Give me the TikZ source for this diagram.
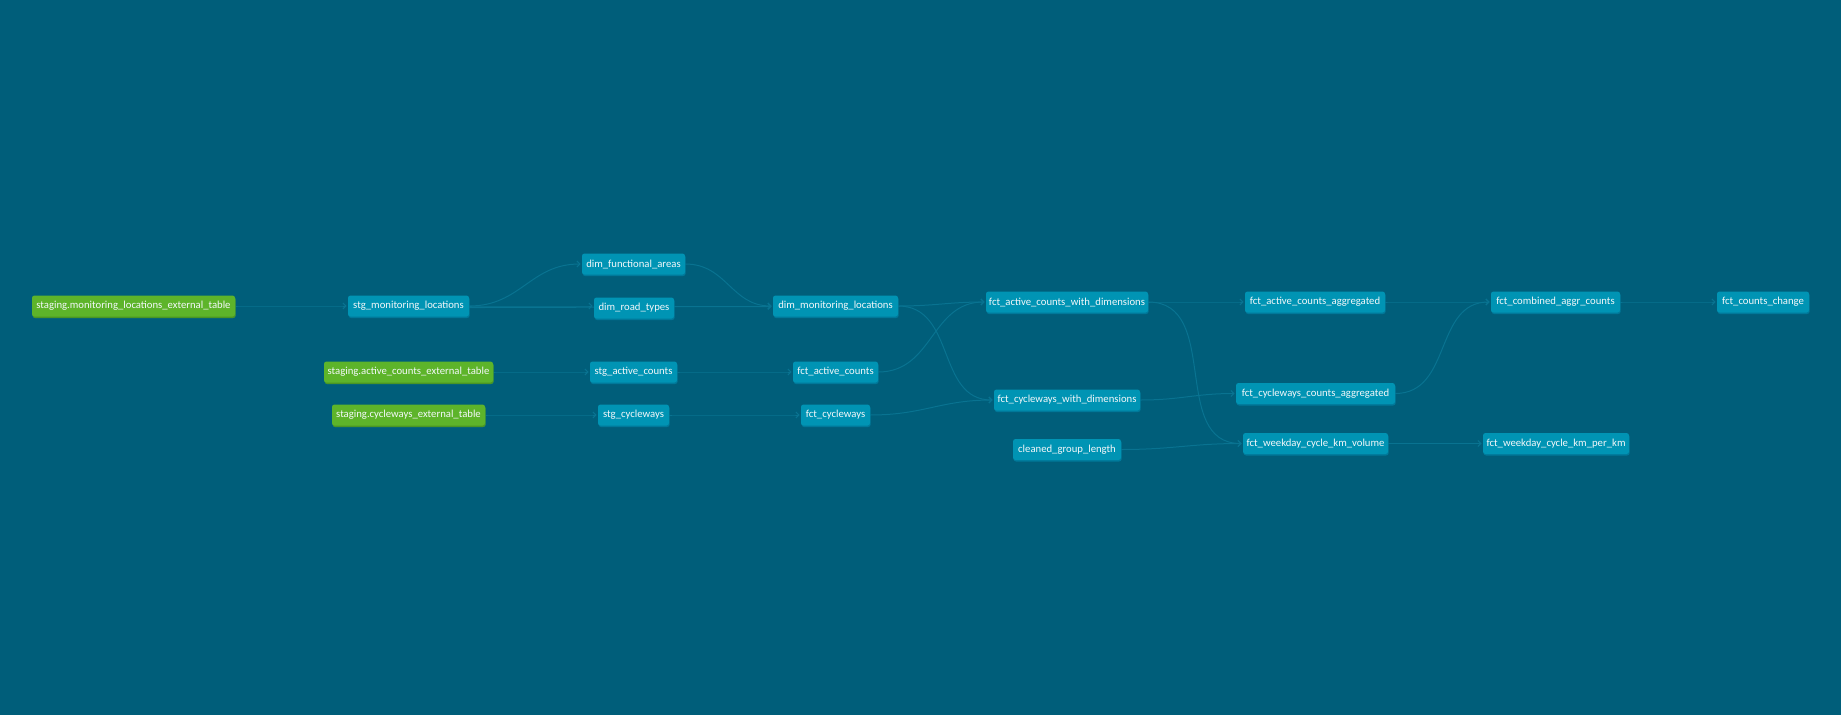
\documentclass[tikz,border=0pt]{standalone}
\usepackage{fontspec}
\setmainfont{Carlito}
\usetikzlibrary{arrows.meta,shadows}

\definecolor{canvas}{HTML}{005E7A}
\definecolor{modelfill}{HTML}{0094B4}
\definecolor{modelshade}{HTML}{00799A}
\definecolor{sourcefill}{HTML}{5DB42A}
\definecolor{sourceshade}{HTML}{4A9624}
\definecolor{linkcol}{HTML}{097391}
\definecolor{labelcol}{HTML}{F4F8FA}

\pgfdeclarelayer{canvaslayer}
\pgfdeclarelayer{linklayer}
\pgfsetlayers{canvaslayer,linklayer,main}

\tikzset{
  model/.style={rectangle, rounded corners=2.5pt, fill=modelfill,
    minimum height=21pt, inner sep=0pt, text=labelcol,
    font=\fontsize{10.7pt}{12pt}\selectfont,
    drop shadow={shadow xshift=0.6pt, shadow yshift=-1.5pt, opacity=1, fill=modelshade}},
  source/.style={model, fill=sourcefill,
    drop shadow={shadow xshift=0.6pt, shadow yshift=-1.5pt, opacity=1, fill=sourceshade}},
  link/.style={draw=linkcol, line width=1pt, shorten >=1.2pt,
    -{Straight Barb[length=3pt,width=6pt]}},
  flow/.style={out=0, in=180, looseness=1.1},
}

\begin{document}
\begin{tikzpicture}[x=1pt, y=-1pt]
  % canvas
  \begin{pgfonlayer}{canvaslayer}
    \fill[canvas] (0,0) rectangle (1841,715);
  \end{pgfonlayer}
  \useasboundingbox (0,0) rectangle (1841,715);

  % ---- sources ----
  \node[source, minimum width=203pt] (smlext) at (133.5,306) {staging.monitoring\_locations\_external\_table};
  \node[source, minimum width=169pt] (sacext) at (408.5,372) {staging.active\_counts\_external\_table};
  \node[source, minimum width=153pt] (scwext) at (408.5,415) {staging.cycleways\_external\_table};

  % ---- models ----
  \node[model, minimum width=121pt] (stgml) at (408.5,306) {stg\_monitoring\_locations};
  \node[model, minimum width=103pt] (dimfa) at (633.5,264) {dim\_functional\_areas};
  \node[model, minimum width=80pt]  (dimrt) at (634,308)   {dim\_road\_types};
  \node[model, minimum width=87pt]  (stgac) at (633.5,372) {stg\_active\_counts};
  \node[model, minimum width=71pt]  (stgcw) at (633.5,415) {stg\_cycleways};

  \node[model, minimum width=125pt] (dimml) at (835.5,306) {dim\_monitoring\_locations};
  \node[model, minimum width=85pt]  (fctac) at (835.5,372) {fct\_active\_counts};
  \node[model, minimum width=69pt]  (fctcw) at (835.5,415) {fct\_cycleways};

  \node[model, minimum width=162pt] (facwd) at (1067,302)   {fct\_active\_counts\_with\_dimensions};
  \node[model, minimum width=146pt] (fcwwd) at (1067,400)   {fct\_cycleways\_with\_dimensions};
  \node[model, minimum width=108pt] (cgl)   at (1067,449.5) {cleaned\_group\_length};

  \node[model, minimum width=140pt] (faca)  at (1315,302)   {fct\_active\_counts\_aggregated};
  \node[model, minimum width=159pt] (fcca)  at (1315.5,393.5) {fct\_cycleways\_counts\_aggregated};
  \node[model, minimum width=145pt] (fwckv) at (1315.5,443.5) {fct\_weekday\_cycle\_km\_volume};

  \node[model, minimum width=129pt] (fcac)  at (1555.5,302) {fct\_combined\_aggr\_counts};
  \node[model, minimum width=146pt] (fwckp) at (1556,443.5) {fct\_weekday\_cycle\_km\_per\_km};

  \node[model, minimum width=92pt]  (fcc)   at (1763,302)   {fct\_counts\_change};

  % ---- lineage links, kept under the boxes ----
  \begin{pgfonlayer}{linklayer}
    \draw[link] (smlext.east) to[flow] (stgml.west);
    \draw[link] (sacext.east) to[flow] (stgac.west);
    \draw[link] (scwext.east) to[flow] (stgcw.west);

    \draw[link] (stgml.east) to[flow] (dimfa.west);
    \draw[link] (stgml.east) to[flow] ([yshift=2pt]dimrt.west);
    \draw[link] ([yshift=-1.5pt]stgml.east) to[flow] ([yshift=-0.5pt]dimml.west);
    \draw[link] (dimfa.east) to[flow] (dimml.west);
    \draw[link] ([yshift=2pt]dimrt.east) to[flow] (dimml.west);

    \draw[link] (stgac.east) to[flow] (fctac.west);
    \draw[link] (stgcw.east) to[flow] (fctcw.west);

    \draw[link] (dimml.east) to[flow] (facwd.west);
    \draw[link] (dimml.east) to[flow] (fcwwd.west);
    \draw[link] (fctac.east) to[flow] (facwd.west);
    \draw[link] (fctcw.east) to[flow] (fcwwd.west);

    \draw[link] (facwd.east) to[flow] (faca.west);
    \draw[link] (facwd.east) to[flow] (fwckv.west);
    \draw[link] (fcwwd.east) to[flow] (fcca.west);
    \draw[link] (cgl.east)   to[flow] (fwckv.west);

    \draw[link] (faca.east)  to[flow] (fcac.west);
    \draw[link] (fcca.east)  to[flow] (fcac.west);
    \draw[link] (fwckv.east) to[flow] (fwckp.west);
    \draw[link] (fcac.east)  to[flow] (fcc.west);
  \end{pgfonlayer}
\end{tikzpicture}
\end{document}
